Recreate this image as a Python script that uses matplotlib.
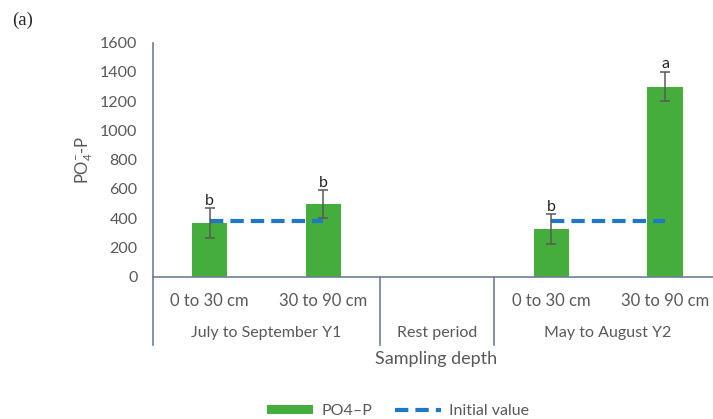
import matplotlib
matplotlib.use("Agg")
from matplotlib import pyplot as plt
from matplotlib.lines import Line2D
from matplotlib.patches import Patch

# data
depths = ["0 to 30 cm", "30 to 90 cm", "", "0 to 30 cm", "30 to 90 cm"]
periods = ["July to September Y1", "Rest period", "May to August Y2"]
po4 = [367, 495, None, 326, 1300]
po4_err = [100, 95, 0, 100, 100]
letters = ["b", "b", "", "b", "a"]
initial = [383, 383, None, 383, 383]

plt.rcParams['font.family'] = ['Lato', 'DejaVu Sans']
plt.rcParams['mathtext.fontset'] = 'custom'
plt.rcParams['mathtext.rm'] = 'Lato'
plt.rcParams['mathtext.it'] = 'Lato'

W, H = 713, 419
fig = plt.figure(figsize=(W / 100, H / 100), dpi=100)
left, right, bottom, top = 152.7, 722, 276.7, 42.7
ax = fig.add_axes([left / W, 1 - bottom / H, (right - left) / W, (bottom - top) / H])

grey = '#595959'
axcol = '#6e7f96'
green = '#44ad3b'
blue = '#1f77c8'

x = list(range(len(depths)))
bx = [i for i in x if po4[i] is not None]
ax.bar(bx, [po4[i] for i in bx], width=0.31, color=green, zorder=2)
ax.errorbar(bx, [po4[i] for i in bx], yerr=[po4_err[i] for i in bx], fmt='none',
            ecolor=grey, elinewidth=1.1, capsize=3.6, capthick=1.1, zorder=4)
for i in bx:
    ax.text(i, po4[i] + po4_err[i] + 5, letters[i], ha='center', va='bottom',
            fontsize=11.5, color='#262626', zorder=5)

# initial value line (two separate segments, gap at the rest period)
for seg in ([0, 1], [3, 4]):
    ax.plot(seg, [initial[i] for i in seg], color=blue, lw=3, dashes=(3.2, 1.7),
            zorder=3)

ax.set_xlim(-0.5, 4.5)
ax.set_ylim(0, 1600)
ax.set_yticks(range(0, 1601, 200))
ax.tick_params(axis='y', length=0, pad=11, labelsize=11.5, labelcolor=grey)
ax.set_xticks(x)
ax.set_xticklabels(depths)
ax.tick_params(axis='x', length=0, pad=12, labelsize=12, labelcolor=grey)
for s in ['top', 'right']:
    ax.spines[s].set_visible(False)
for s in ['left', 'bottom']:
    ax.spines[s].set_color(axcol)
    ax.spines[s].set_linewidth(1.2)

# second level category axis
trans = ax.get_xaxis_transform()
sep_bottom = (bottom - 345) / (bottom - top)
for xs in [-0.5, 1.5, 2.5]:
    ax.add_line(Line2D([xs, xs], [0, sep_bottom], transform=trans, color=axcol,
                       lw=1.2, clip_on=False))
group_y = (bottom - 333) / (bottom - top)
for pos, lab in zip([0.5, 2, 3.5], periods):
    ax.text(pos, group_y, lab, transform=trans, ha='center', va='center',
            fontsize=11.5, color=grey)

fig.text(436 / W, 1 - 359 / H, "Sampling depth", ha='center', va='center',
         fontsize=13, color=grey)
fig.text(84 / W, 1 - 160 / H, r'PO$_4^{-}$-P', rotation=90, ha='center',
         va='center', fontsize=12, color=grey)
fig.text(12 / W, 1 - 20 / H, "(a)", ha='left', va='center', fontsize=13.5,
         family='Liberation Serif', color='#262626')

handles = [Patch(facecolor=green, edgecolor='none'),
           Line2D([0], [0], color=blue, lw=3, dashes=(3.2, 1.7))]
fig.legend(handles, ["PO4\u2013P", "Initial value"], loc='center',
           bbox_to_anchor=(398 / W, 1 - 411 / H), ncol=2, frameon=False,
           fontsize=11.5, labelcolor=grey, handlelength=2.9, handleheight=0.55,
           columnspacing=1.4, handletextpad=0.5)

fig.savefig("out.png", dpi=100)
